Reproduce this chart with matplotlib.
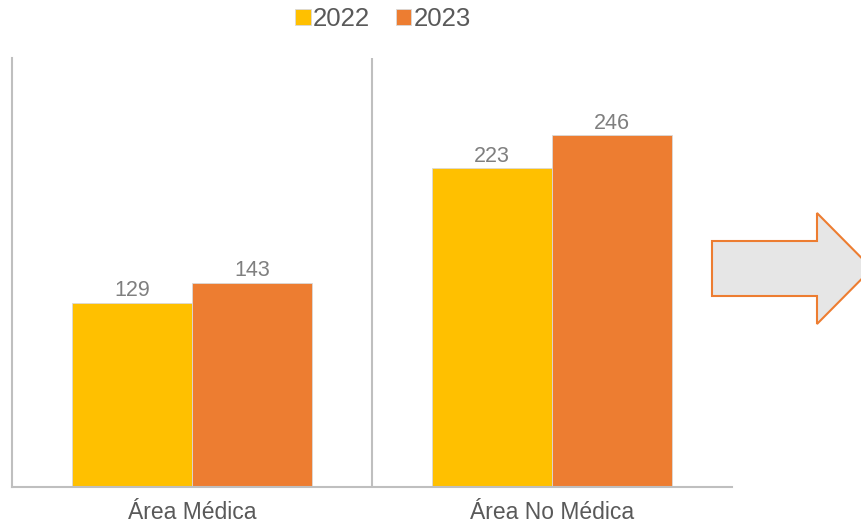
import matplotlib
matplotlib.use('Agg')
import matplotlib.pyplot as plt
import numpy as np
from matplotlib.patches import Polygon

plt.rc('font', family=['Liberation Sans', 'DejaVu Sans'])

categories = ['Área Médica', 'Área No Médica']
series_names = ['2022', '2023']
values_2022 = [129, 223]
values_2023 = [143, 246]

YELLOW = '#FFC000'
ORANGE = '#ED7D31'
TEXT_GRAY = '#595959'
LABEL_GRAY = '#7F7F7F'
LINE_GRAY = '#BFBFBF'

W, H = 861, 525
fig = plt.figure(figsize=(W / 100, H / 100), dpi=100)
ax = fig.add_axes([12 / W, 38 / H, 720 / W, 429 / H])

x = np.arange(len(categories))
width = 1 / 3
b1 = ax.bar(x - width / 2, values_2022, width, color=YELLOW, label=series_names[0],
            edgecolor='#D9D9D9', linewidth=0.6)
b2 = ax.bar(x + width / 2, values_2023, width, color=ORANGE, label=series_names[1],
            edgecolor='#D9D9D9', linewidth=0.6)
ax.bar_label(b1, padding=1, fontsize=15.5, color=LABEL_GRAY)
ax.bar_label(b2, padding=1, fontsize=15.5, color=LABEL_GRAY)

ax.set_xlim(-0.5, 1.5)
ax.set_ylim(0, 300)
ax.set_yticks([])
ax.set_xticks(x)
ax.set_xticklabels(categories, fontsize=16.5, color=TEXT_GRAY)
ax.tick_params(axis='x', length=0, pad=10)

for s in ['top', 'right']:
    ax.spines[s].set_visible(False)
for s in ['left', 'bottom']:
    ax.spines[s].set_color(LINE_GRAY)
    ax.spines[s].set_linewidth(1.5)
# separator between the two categories
ax.axvline(0.5, color=LINE_GRAY, linewidth=1.5)

fig.legend(loc='upper center', bbox_to_anchor=(0.445, 1.03), ncol=2, frameon=False,
           fontsize=18.5, labelcolor=TEXT_GRAY, handlelength=0.6, handleheight=0.6,
           handletextpad=0.1, columnspacing=1.0)

# block arrow on the right (partly cut off by the figure edge)
pts = [(712, 241), (817, 241), (817, 213), (872, 268.5), (817, 324), (817, 296), (712, 296)]
pts = [(px / W, 1 - py / H) for px, py in pts]
arrow = Polygon(pts, closed=True, facecolor='#E6E6E6', edgecolor=ORANGE, linewidth=1.5,
                transform=fig.transFigure, clip_on=False)
fig.patches.append(arrow)

fig.savefig('out.png', dpi=100)
